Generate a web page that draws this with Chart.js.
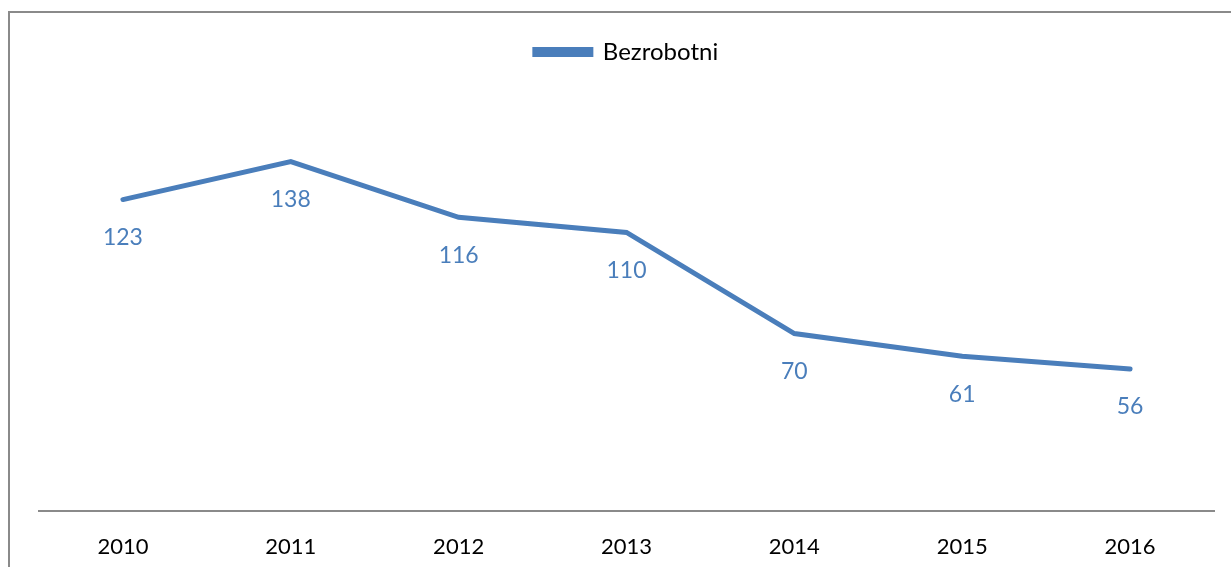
<!DOCTYPE html>
<html>
<head>
<meta charset="utf-8">
<script src="https://cdn.jsdelivr.net/npm/chart.js@4"></script>
<style>
    html, body { margin: 0; padding: 0; background: #fff; overflow: hidden; }
    #okvir { position: absolute; left: 8px; top: 11px; width: 1400px; height: 700px; border: 2px solid #8a8a8a; }
    #wrap { position: absolute; left: 0; top: 0; width: 1231px; height: 567px; }
</style>
</head>
<body>
<div id="okvir"></div>
<div id="wrap"><canvas id="grafikon" width="1231" height="567"></canvas></div>
<script>
const godine = ["2010", "2011", "2012", "2013", "2014", "2015", "2016"];
const bezrobotni = [123, 138, 116, 110, 70, 61, 56];

const plava = "#4a7ebb";

// oznake vrijednosti ispod tocaka
const oznakePlugin = {
    id: "oznake",
    afterDatasetsDraw(chart) {
        const ctx = chart.ctx;
        const meta = chart.getDatasetMeta(0);
        ctx.save();
        ctx.font = "23px Lato";
        ctx.fillStyle = plava;
        ctx.textAlign = "center";
        ctx.textBaseline = "middle";
        meta.data.forEach((tocka, i) => {
            ctx.fillText(String(bezrobotni[i]), tocka.x, tocka.y + 38);
        });
        ctx.restore();
    }
};

// razmak ispod legende
const razmakLegende = {
    id: "razmakLegende",
    beforeInit(chart) {
        const fit = chart.legend.fit;
        chart.legend.fit = function () {
            fit.bind(this)();
            this.height += 32;
        };
    }
};

new Chart(document.getElementById("grafikon"), {
    type: "line",
    data: {
        labels: godine,
        datasets: [{
            label: "Bezrobotni",
            data: bezrobotni,
            borderColor: plava,
            backgroundColor: plava,
            borderWidth: 5,
            borderCapStyle: "round",
            borderJoinStyle: "miter",
            tension: 0,
            pointRadius: 0,
            pointHoverRadius: 0,
            fill: false
        }]
    },
    options: {
        responsive: false,
        animation: false,
        layout: { padding: { top: 30, left: 39, right: 17, bottom: -16 } },
        plugins: {
            tooltip: { enabled: false },
            legend: {
                display: true,
                position: "top",
                labels: {
                    boxWidth: 56,
                    boxHeight: 5,
                    padding: 10,
                    color: "#000",
                    font: { family: "Lato", size: 24 }
                }
            }
        },
        scales: {
            x: {
                offset: true,
                grid: { display: false, drawTicks: false },
                border: { display: true, color: "#8a8a8a", width: 2 },
                ticks: { color: "#000", padding: 23, font: { family: "Lato", size: 22 } }
            },
            y: {
                display: false,
                min: 0,
                max: 160
            }
        }
    },
    plugins: [oznakePlugin, razmakLegende]
});
</script>
</body>
</html>
